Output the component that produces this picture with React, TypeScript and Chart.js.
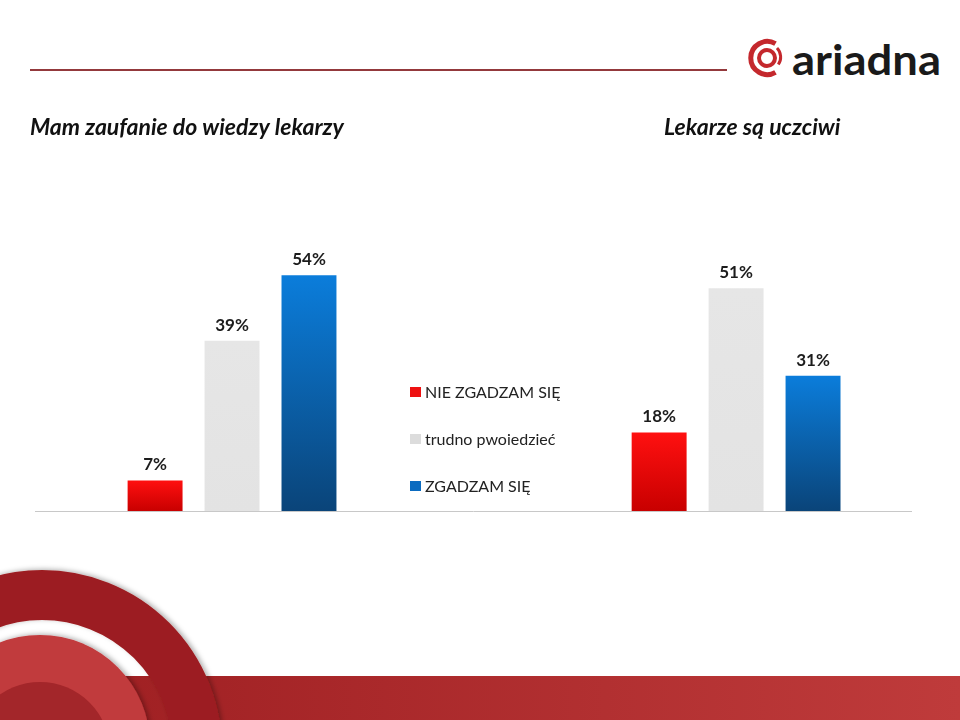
import React, { useEffect, useRef } from 'react';
import { Chart, registerables } from 'chart.js';

Chart.register(...registerables);

// ---- data ----
const categories = ['Mam zaufanie do wiedzy lekarzy', 'Lekarze są uczciwi'];
const seriesLabels = ['NIE ZGADZAM SIĘ', 'trudno pwoiedzieć', 'ZGADZAM SIĘ'];
const disagreeValues = [7, 18];
const hardToSayValues = [39, 51];
const agreeValues = [54, 31];
const valueSuffix = '%';

// ---- styles ----
const barGradients = [
  ['#ff1010', '#c80000'],
  ['#e6e6e6', '#e3e3e3'],
  ['#0b7ddb', '#0a4479'],
];
const legendColors = ['#ee1111', '#dcdcdc', '#0b6bc0'];
const titlePositions = [30, 664];

function makeGradient(idx: number) {
  return (ctx: any) => {
    const chart = ctx.chart;
    const stops = barGradients[idx];
    if (!chart.chartArea || !ctx.parsed) return stops[0];
    const ys = chart.scales.y;
    const top = ys.getPixelForValue(ctx.parsed.y);
    const bottom = ys.getPixelForValue(0);
    if (!isFinite(top) || !isFinite(bottom) || top === bottom) return stops[0];
    const g = chart.ctx.createLinearGradient(0, top, 0, bottom);
    g.addColorStop(0, stops[0]);
    g.addColorStop(1, stops[1]);
    return g;
  };
}

const overlayPlugin = {
  id: 'overlay',
  afterDatasetsDraw(chart: any) {
    const { ctx, chartArea, scales } = chart;
    const y0 = scales.y.getPixelForValue(0);
    ctx.save();
    // baseline
    ctx.strokeStyle = '#c8c8c8';
    ctx.lineWidth = 1;
    ctx.beginPath();
    ctx.moveTo(chartArea.left, Math.round(y0) + 0.5);
    ctx.lineTo(chartArea.right, Math.round(y0) + 0.5);
    ctx.stroke();
    // value labels
    ctx.fillStyle = '#1c1c1c';
    ctx.font = 'bold 17px Lato';
    ctx.textAlign = 'center';
    ctx.textBaseline = 'alphabetic';
    chart.data.datasets.forEach((ds: any, di: number) => {
      const meta = chart.getDatasetMeta(di);
      meta.data.forEach((el: any, i: number) => {
        const v = ds.data[i].y;
        ctx.fillText(v + valueSuffix, el.x, el.y - 10);
      });
    });
    // titles
    ctx.font = 'italic bold 23px Lato';
    ctx.textAlign = 'left';
    ctx.fillStyle = '#111';
    categories.forEach((c, i) => {
      ctx.fillText(c, titlePositions[i], 135);
    });
    // legend
    ctx.font = '16px Lato';
    ctx.textBaseline = 'middle';
    chart.data.datasets.forEach((ds: any, di: number) => {
      const cy = 392 + di * 47;
      ctx.fillStyle = legendColors[di];
      ctx.fillRect(410, cy - 5, 11, 10);
      ctx.fillStyle = '#222';
      ctx.fillText(ds.label, 425, cy + 1);
    });
    ctx.restore();
  },
};

export default function App() {
  const canvasRef = useRef<HTMLCanvasElement | null>(null);

  useEffect(() => {
    const canvas = canvasRef.current;
    if (!canvas) return;
    const series = [disagreeValues, hardToSayValues, agreeValues];
    const chart = new Chart(canvas, {
      type: 'bar',
      data: {
        datasets: series.map((vals, si) => ({
          label: seriesLabels[si],
          data: vals.map((v, i) => ({ x: i, y: v })),
          backgroundColor: makeGradient(si),
          borderWidth: 0,
          categoryPercentage: 0.458,
          barPercentage: 0.714,
        })),
      },
      options: {
        responsive: false,
        animation: false,
        events: [],
        layout: { padding: { left: 35, right: 48, top: 249, bottom: 209 } },
        scales: {
          x: {
            type: 'linear',
            display: false,
            offset: false,
            min: -0.3909,
            max: 1.349,
            afterBuildTicks: (s: any) => {
              s.ticks = categories.map((_, i) => ({ value: i }));
            },
          },
          y: { display: false, min: 0, max: 60 },
        },
        plugins: {
          legend: { display: false },
          tooltip: { enabled: false },
        },
      } as any,
      plugins: [overlayPlugin],
    });
    return () => chart.destroy();
  }, []);

  return (
    <div
      style={{
        position: 'fixed',
        left: 0,
        top: 0,
        width: 960,
        height: 720,
        background: '#fff',
        overflow: 'hidden',
      }}
    >
      <svg width={960} height={720} style={{ position: 'absolute', left: 0, top: 0 }}>
        <defs>
          <linearGradient id="band" x1="0" x2="1" y1="0" y2="0">
            <stop offset="0" stopColor="#9c1d20" />
            <stop offset="1" stopColor="#bf3b3b" />
          </linearGradient>
          <filter id="sh" x="-20%" y="-20%" width="140%" height="140%">
            <feDropShadow dx="2" dy="-1" stdDeviation="2.5" floodColor="#000" floodOpacity="0.3" />
          </filter>
        </defs>
        <line x1={30} y1={70} x2={727} y2={70} stroke="#93393c" strokeWidth={2} />
        <rect x={0} y={676} width={960} height={44} fill="url(#band)" />
        <circle cx={42} cy={750} r={155} fill="none" stroke="#9c1d20" strokeWidth={50} filter="url(#sh)" />
        <circle cx={40} cy={745} r={110} fill="#c13a3d" filter="url(#sh)" />
        <circle cx={40} cy={752} r={70} fill="#a3262a" />
        {/* logo */}
        <g fill="none" stroke="#c4282d" strokeLinecap="butt">
          <path d="M 775.5 43.7 A 16.5 16.5 0 1 0 775.5 72.3" strokeWidth={5} />
          <path d="M 777 48 A 13 13 0 0 1 778.3 64.5" strokeWidth={3} />
          <circle cx={767} cy={58} r={8} strokeWidth={4} />
        </g>
        <text
          x={792}
          y={75}
          fontFamily="Lato"
          fontWeight="bold"
          fontSize={42}
          fill="#1a1a1a"
          textLength={149}
          lengthAdjust="spacingAndGlyphs"
        >
          ariadna
        </text>
      </svg>
      <canvas
        ref={canvasRef}
        width={960}
        height={720}
        style={{ position: 'absolute', left: 0, top: 0, width: 960, height: 720 }}
      />
    </div>
  );
}
